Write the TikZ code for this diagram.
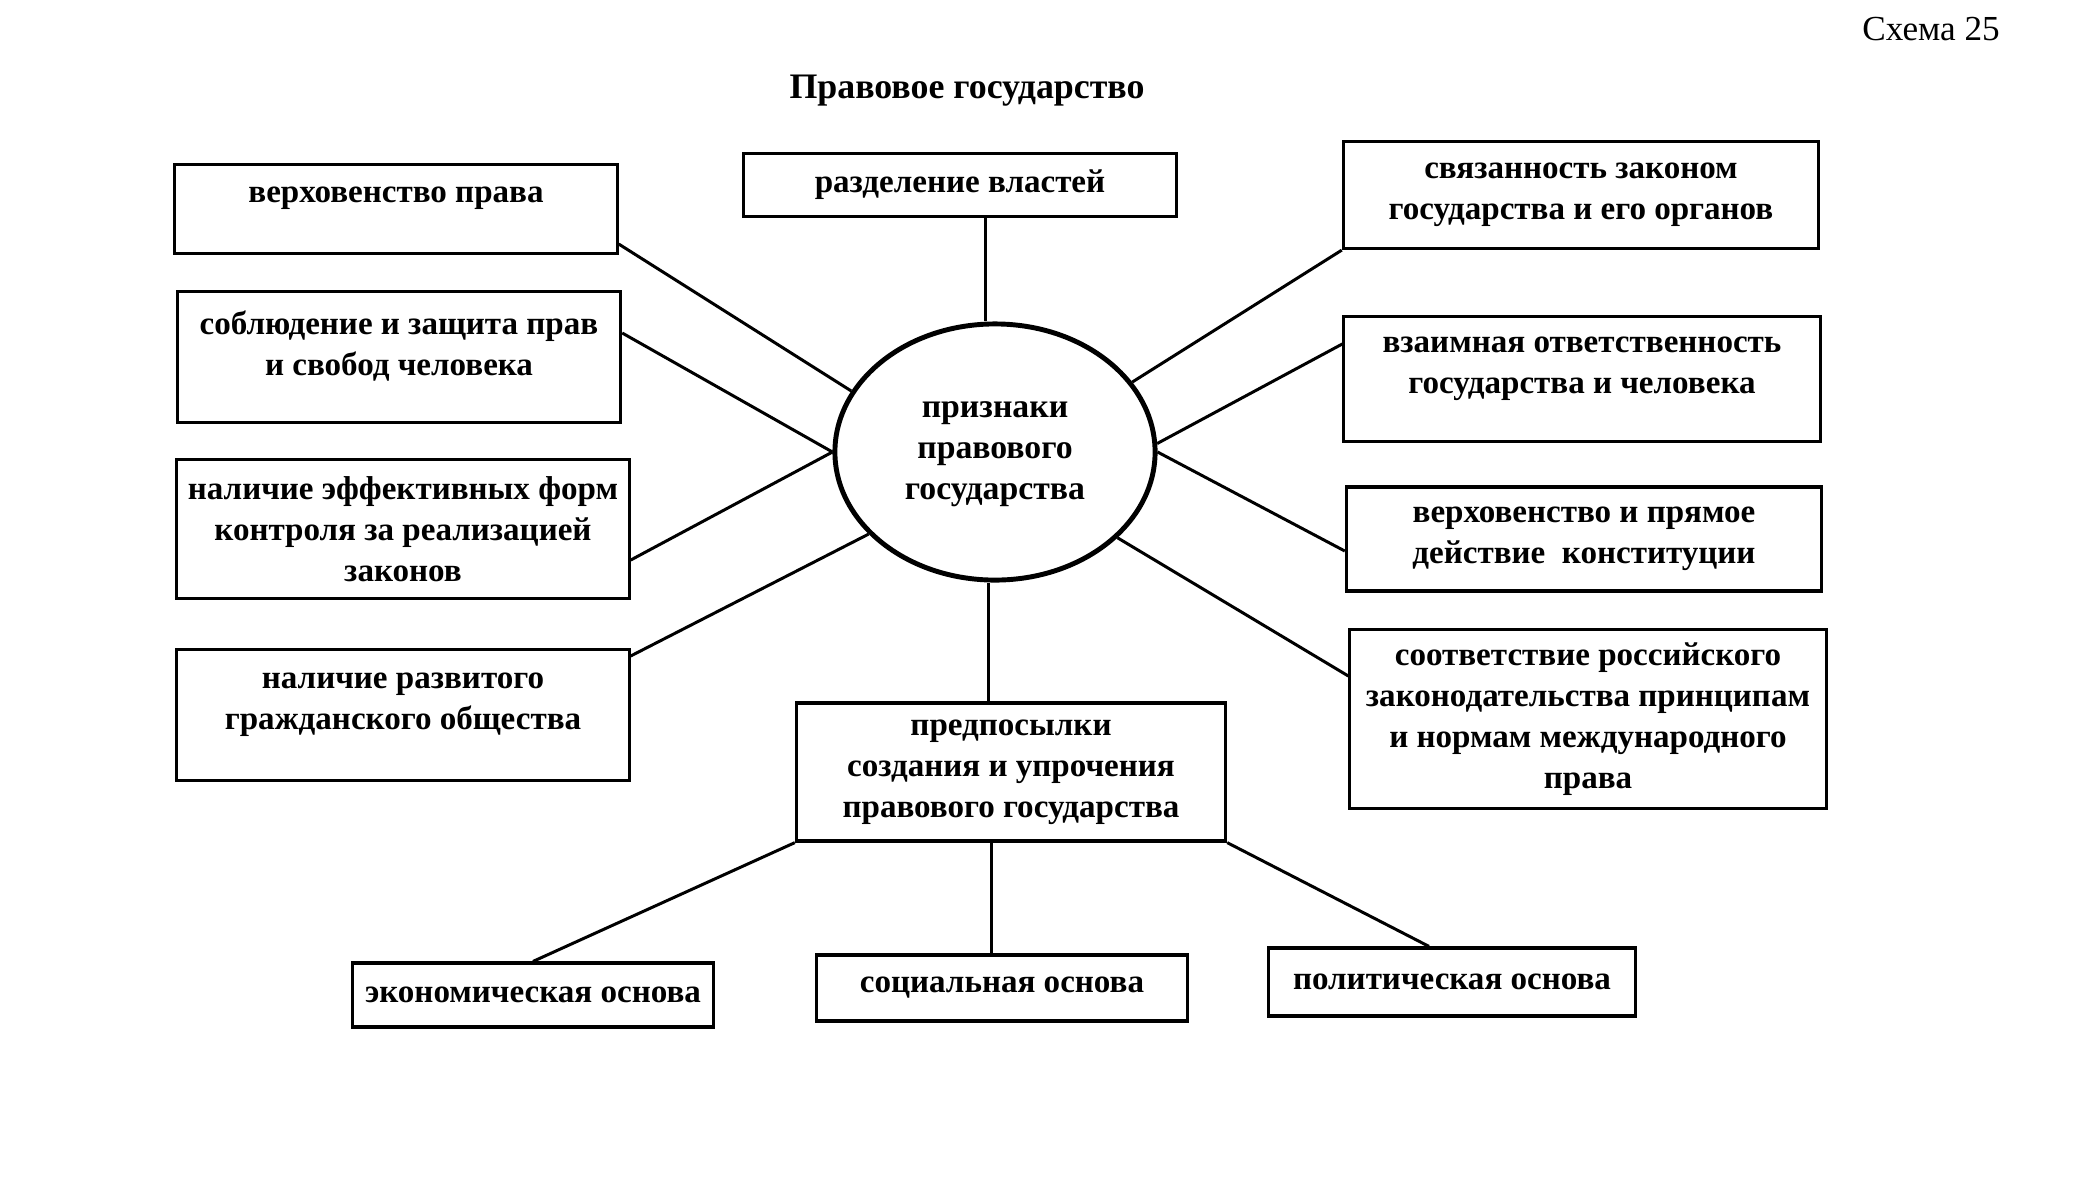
\documentclass[tikz,border=0pt]{standalone}
\usepackage{fontspec}
\setmainfont{Liberation Serif}
\usetikzlibrary{shapes.geometric}
\tikzset{
  sign/.style={rectangle, draw, line width=0.9pt, align=center, inner sep=2pt,
    font=\bfseries\fontsize{9.4}{11.7}\selectfont},
  raised/.style={text depth=0.28cm},
  core/.style={ellipse, draw, line width=1.4pt, minimum width=3.2cm, minimum height=2.56cm,
    align=center, inner sep=0pt, font=\bfseries\fontsize{9.6}{11.7}\selectfont},
  link/.style={line width=0.85pt}
}

\begin{document}
\begin{tikzpicture}[x=0.01cm, y=-0.01cm]
  \useasboundingbox (0,0) rectangle (2091,1187);

  \node[font=\fontsize{10}{12}\selectfont] (scheme) at (1931,29) {Схема 25};
  \node[font=\bfseries\fontsize{10.2}{12}\selectfont] (title) at (967,91) {Правовое государство};

  \node[core] (pr) at (995,452) {\\[-6pt]признаки\\правового\\государства};

  \node[sign, raised, minimum width=4.42cm, minimum height=0.89cm] (vp) at (396,209) {верховенство права};
  \node[sign, minimum width=4.33cm, minimum height=0.63cm] (rv) at (960,185) {разделение властей};
  \node[sign, minimum width=4.75cm, minimum height=1.07cm] (sz) at (1581,195) {связанность законом\\государства и его органов};
  \node[sign, raised, minimum width=4.43cm, minimum height=1.31cm] (sb) at (399,357) {соблюдение и защита прав\\и свобод человека};
  \node[sign, raised, minimum width=4.76cm, minimum height=1.25cm] (vo) at (1582,379) {взаимная ответственность\\государства и человека};
  \node[sign, minimum width=4.52cm, minimum height=1.39cm] (ef) at (403,529) {наличие эффективных форм\\контроля за реализацией\\законов};
  \node[sign, minimum width=4.75cm, minimum height=1.04cm] (pd) at (1584,539) {верховенство и прямое\\действие\ \ конституции};
  \node[sign, raised, minimum width=4.52cm, minimum height=1.31cm] (gr) at (403,715) {наличие развитого\\гражданского общества};
  \node[sign, minimum width=4.76cm, minimum height=1.79cm] (sr) at (1588,719) {соответствие российского\\законодательства принципам\\и нормам международного\\права};

  \node[sign, minimum width=4.29cm, minimum height=1.38cm] (pp) at (1011,772) {предпосылки\\создания и упрочения\\правового государства};
  \node[sign, minimum width=3.60cm, minimum height=0.64cm] (ek) at (533,995) {экономическая основа};
  \node[sign, minimum width=3.70cm, minimum height=0.66cm] (sc) at (1002,988) {социальная основа};
  \node[sign, minimum width=3.66cm, minimum height=0.68cm] (pl) at (1452,982) {политическая основа};

  \draw[link] ([yshift=-0.35cm]vp.east) -- (pr.157);
  \draw[link] ([yshift=0.24cm]sb.east) -- (pr.180);
  \draw[link] ([yshift=-0.31cm]ef.east) -- (pr.180);
  \draw[link] ([yshift=0.59cm]gr.east) -- (pr.213);
  \draw[link] ([xshift=-0.1cm]pr.north) -- ([xshift=-0.1cm]pr.north |- rv.south);
  \draw[link] (sz.south west) -- (pr.27);
  \draw[link] ([yshift=0.35cm]vo.west) -- (pr.3);
  \draw[link] ([yshift=-0.12cm]pd.west) -- (pr.0);
  \draw[link] ([yshift=0.43cm]sr.west) -- (pr.325);
  \draw[link] ([xshift=-0.07cm]pr.south) -- ([xshift=-0.07cm]pr.south |- pp.north);
  \draw[link] (pp.south west) -- (ek.north);
  \draw[link] ([xshift=-0.11cm]sc.north) -- ([xshift=-0.11cm]sc.north |- pp.south);
  \draw[link] (pp.south east) -- ([xshift=-0.23cm]pl.north);
\end{tikzpicture}
\end{document}
